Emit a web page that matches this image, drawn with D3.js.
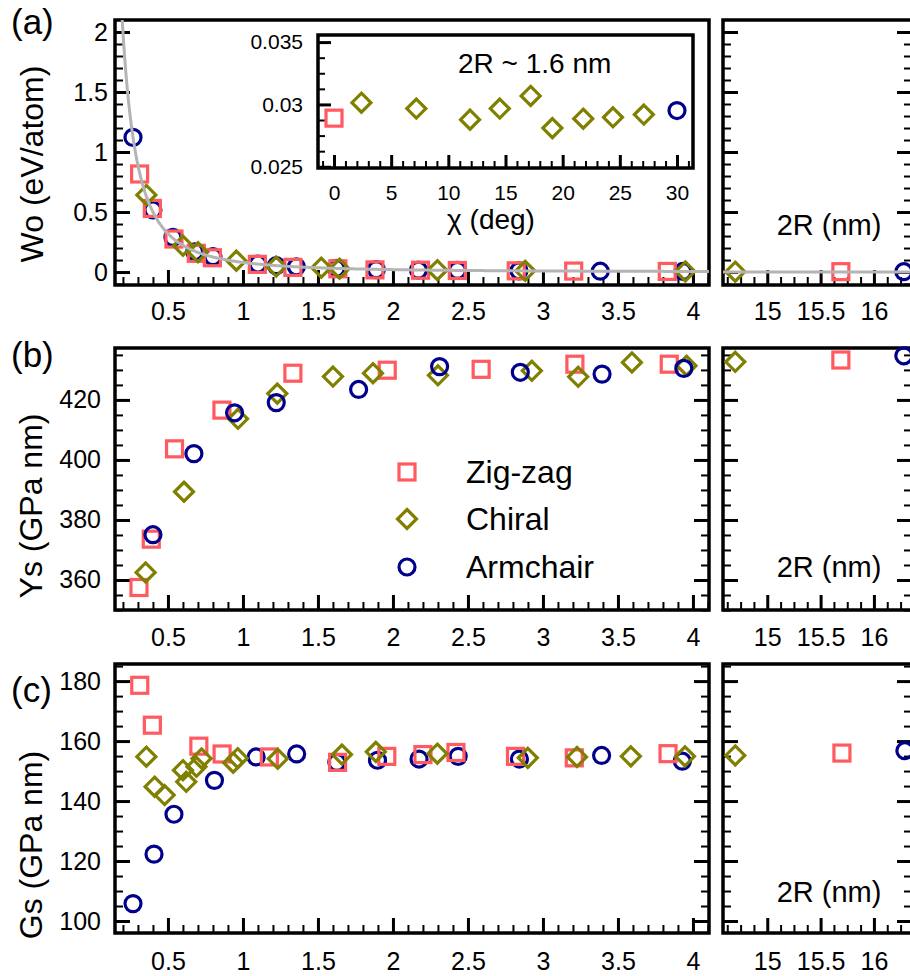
<!DOCTYPE html>
<html>
<head>
<meta charset="utf-8">
<script src="https://cdn.jsdelivr.net/npm/d3@7"></script>
<style>
  body { margin: 0; background: #fff; }
  text { font-family: "Liberation Sans", Arial, Helvetica, sans-serif; }
</style>
</head>
<body>
<div id="chart"></div>
<script>
// ---- data: [2R (nm), value] ----
const seriesNames = ["Zig-zag", "Chiral", "Armchair"];

// (a) Wo (eV/atom)
const woZigzag = [[0.311, 0.817], [0.396, 0.53], [0.54, 0.275], [0.689, 0.156], [0.796, 0.119],
  [1.096, 0.064], [1.333, 0.039], [1.633, 0.027], [1.88, 0.018], [2.184, 0.015], [2.429, 0.013],
  [2.822, 0.010], [3.205, 0.008], [3.829, 0.005], [15.69, 0.003]];
const woChiral = [[0.356, 0.642], [0.6, 0.22], [0.7, 0.165], [0.956, 0.095], [1.222, 0.046],
  [1.522, 0.036], [1.644, 0.028], [2.296, 0.015], [2.882, 0.010], [3.949, 0.005], [14.70, 0.003]];
const woArmchair = [[0.267, 1.122], [0.4, 0.517], [0.533, 0.289], [0.678, 0.169], [0.8, 0.128],
  [1.1, 0.067], [1.222, 0.053], [1.356, 0.044], [1.622, 0.03], [1.889, 0.02], [2.17, 0.016],
  [2.43, 0.014], [2.84, 0.010], [3.382, 0.007], [3.933, 0.005], [16.28, 0.003]];
const fitA = 0.08; // fitted curve Wo = A / (2R)^2

// inset: Wo vs chiral angle at 2R ~ 1.6 nm
const insetZigzag = [[0, 0.0289]];
const insetChiral = [[2.4, 0.03014], [7.2, 0.02967], [11.9, 0.02878], [14.5, 0.02967], [17.2, 0.03068],
  [19.1, 0.0281], [21.8, 0.02886], [24.4, 0.02897], [27.1, 0.02919]];
const insetArmchair = [[30, 0.02951]];

// (b) Ys (GPa nm)
const ysZigzag = [[0.307, 357.5], [0.389, 373.6], [0.544, 403.7], [0.86, 416.6], [1.333, 428.9],
  [1.962, 429.9], [2.588, 430.2], [3.213, 431.9], [3.842, 431.9], [15.69, 433.3]];
const ysChiral = [[0.351, 362.5], [0.607, 389.4], [0.967, 413.7], [1.229, 422.1], [1.6, 427.8],
  [1.867, 428.9], [2.3, 428.2], [2.926, 429.7], [3.235, 427.7], [3.593, 432.5], [3.957, 431.4], [14.70, 432.7]];
const ysArmchair = [[0.4, 375.1], [0.673, 402.1], [0.944, 415.7], [1.222, 419.1], [1.771, 423.5],
  [2.311, 431.1], [2.849, 429.2], [3.394, 428.6], [3.939, 430.5], [16.28, 434.7]];

// (c) Gs (GPa nm)
const gsZigzag = [[0.312, 178.6], [0.396, 165.3], [0.706, 158.3], [0.861, 155.7], [1.176, 154.7],
  [1.631, 152.9], [1.959, 154.9], [2.2, 155.5], [2.42, 156.2], [2.817, 154.9], [3.209, 154.4],
  [3.834, 155.8], [15.70, 156.0]];
const gsChiral = [[0.356, 154.8], [0.411, 144.8], [0.478, 142.0], [0.6, 150.3], [0.622, 146.4],
  [0.69, 151.4], [0.724, 154.2], [0.935, 152.8], [0.965, 154.3], [1.232, 154.1], [1.66, 155.5],
  [1.886, 156.4], [2.296, 155.8], [2.899, 154.4], [3.227, 154.7], [3.586, 154.9], [3.947, 154.9], [14.70, 155.2]];
const gsArmchair = [[0.267, 105.8], [0.407, 122.3], [0.54, 135.6], [0.81, 146.9], [1.088, 154.7],
  [1.358, 155.7], [1.626, 152.9], [1.897, 153.6], [2.174, 154.0], [2.435, 154.9], [2.843, 154.0],
  [3.391, 155.2], [3.929, 153.3], [16.29, 156.8]];

// tick labels
const xTicksMain = [0.5, 1, 1.5, 2, 2.5, 3, 3.5, 4];
const xTicksRight = [15, 15.5, 16];
const woTicks = [0, 0.5, 1, 1.5, 2];
const ysTicks = [360, 380, 400, 420];
const gsTicks = [100, 120, 140, 160, 180];
const insetXTicks = [0, 5, 10, 15, 20, 25, 30];
const insetYTicks = [0.025, 0.03, 0.035];

// ---- layout ----
const W = 910, H = 976;
const FONT = '"Liberation Sans", Arial, Helvetica, sans-serif';
const colors = { "Zig-zag": "#ff5a5f", "Chiral": "#7f7f00", "Armchair": "#00008c" };
const shapes = { "Zig-zag": "square", "Chiral": "diamond", "Armchair": "circle" };

const svg = d3.select("#chart").append("svg")
  .attr("width", W).attr("height", H);

const mainX = d3.scaleLinear().domain([0.147, 4.107]).range([115, 709]);
const rightX = d3.scaleLinear().domain([14.585, 16.357]).range([723, 912]);

const minorMainX = d3.range(2, 42).map(i => i / 10).filter(v => !xTicksMain.includes(v));
const minorRightX = d3.range(117, 131).map(i => i * 0.125).filter(v => !xTicksRight.includes(v));

function marker(g, kind, color, cx, cy) {
  if (kind === "square") {
    g.append("rect").attr("x", cx - 8).attr("y", cy - 8)
      .attr("width", 16).attr("height", 16)
      .attr("fill", "none").attr("stroke", color).attr("stroke-width", 3.2);
  } else if (kind === "diamond") {
    g.append("path")
      .attr("d", `M${cx},${cy - 9.5}L${cx + 9.5},${cy}L${cx},${cy + 9.5}L${cx - 9.5},${cy}Z`)
      .attr("fill", "none").attr("stroke", color).attr("stroke-width", 3.2);
  } else {
    g.append("circle").attr("cx", cx).attr("cy", cy).attr("r", 8)
      .attr("fill", "none").attr("stroke", color).attr("stroke-width", 3.2);
  }
}

function drawSeries(g, data, name, x, y) {
  const [x0, x1] = x.domain();
  data.filter(d => d[0] >= x0 && d[0] <= x1)
    .forEach(d => marker(g, shapes[name], colors[name], x(d[0]), y(d[1])));
}

function styleAxis(g, size) {
  g.select(".domain").remove();
  g.attr("font-family", FONT).attr("font-size", size);
  g.selectAll("text").attr("fill", "#000");
}

// draws ticks for one box: left/bottom with labels, optional right mirror
function drawAxes(g, x, y, o) {
  const [yTop, yBot] = [y.range()[1], y.range()[0]];
  const [xL, xR] = x.range();
  // bottom
  g.append("g").attr("transform", `translate(0,${yBot})`)
    .call(d3.axisBottom(x).tickValues(o.xMinor).tickSizeInner(-o.minorLen).tickSizeOuter(0).tickFormat(""))
    .call(a => styleAxis(a, o.font))
    .selectAll("line").attr("stroke", "#000").attr("stroke-width", 2);
  g.append("g").attr("transform", `translate(0,${yBot})`)
    .call(d3.axisBottom(x).tickValues(o.xMajor).tickSizeInner(-o.majorLen).tickSizeOuter(0)
      .tickPadding(o.xPad).tickFormat(d => String(d)))
    .call(a => styleAxis(a, o.font))
    .selectAll("line").attr("stroke", "#000").attr("stroke-width", 3);
  // left
  g.append("g").attr("transform", `translate(${xL},0)`)
    .call(d3.axisLeft(y).tickValues(o.yMinor).tickSizeInner(-o.minorLen).tickSizeOuter(0).tickFormat(""))
    .call(a => styleAxis(a, o.font))
    .selectAll("line").attr("stroke", "#000").attr("stroke-width", 2);
  g.append("g").attr("transform", `translate(${xL},0)`)
    .call(d3.axisLeft(y).tickValues(o.yMajor).tickSizeInner(-o.majorLen).tickSizeOuter(0)
      .tickPadding(o.yPad).tickFormat(o.yLabels ? (d => String(d)) : ""))
    .call(a => styleAxis(a, o.font))
    .selectAll("line").attr("stroke", "#000").attr("stroke-width", 3);
  if (o.right) {
    g.append("g").attr("transform", `translate(${xR},0)`)
      .call(d3.axisRight(y).tickValues(o.yMinor).tickSizeInner(-o.minorLen).tickSizeOuter(0).tickFormat(""))
      .call(a => styleAxis(a, o.font))
      .selectAll("line").attr("stroke", "#000").attr("stroke-width", 2);
    g.append("g").attr("transform", `translate(${xR},0)`)
      .call(d3.axisRight(y).tickValues(o.yMajor).tickSizeInner(-o.majorLen).tickSizeOuter(0).tickFormat(""))
      .call(a => styleAxis(a, o.font))
      .selectAll("line").attr("stroke", "#000").attr("stroke-width", 3);
  }
  // frame
  g.append("rect").attr("x", xL).attr("y", yTop)
    .attr("width", xR - xL).attr("height", yBot - yTop)
    .attr("fill", "none").attr("stroke", "#000").attr("stroke-width", 3.5);
}

const panels = [
  {
    tag: "(a)", top: 20, bottom: 285, domain: [-0.108, 2.1], ticks: woTicks,
    minor: d3.range(-1, 21).map(i => i / 10).filter(v => !woTicks.includes(v)),
    yPad: 7, xPad: 17, mainRight: false, title: "Wo (eV/atom)", titlePos: [43, 164], tagY: 34,
    series: { "Zig-zag": woZigzag, "Chiral": woChiral, "Armchair": woArmchair },
    order: ["Armchair", "Zig-zag", "Chiral"], fit: true
  },
  {
    tag: "(b)", top: 348, bottom: 610, domain: [350, 437.3], ticks: ysTicks,
    minor: d3.range(350, 440, 5).filter(v => !ysTicks.includes(v)),
    yPad: 14, xPad: 18, mainRight: true, title: "Ys (GPa nm)", titlePos: [42, 506], tagY: 367,
    series: { "Zig-zag": ysZigzag, "Chiral": ysChiral, "Armchair": ysArmchair },
    order: ["Zig-zag", "Chiral", "Armchair"], legend: true
  },
  {
    tag: "(c)", top: 664, bottom: 933, domain: [96, 185.7], ticks: gsTicks,
    minor: d3.range(100, 190, 5).filter(v => !gsTicks.includes(v)),
    yPad: 14, xPad: 19, mainRight: true, title: "Gs (GPa nm)", titlePos: [42, 845], tagY: 702,
    series: { "Zig-zag": gsZigzag, "Chiral": gsChiral, "Armchair": gsArmchair },
    order: ["Armchair", "Zig-zag", "Chiral"]
  }
];

const rightLabelY = { "(a)": 235, "(b)": 577, "(c)": 902 };

panels.forEach((p, i) => {
  const y = d3.scaleLinear().domain(p.domain).range([p.bottom, p.top]);
  const g = svg.append("g");

  // clip for the fit curve
  const clipMain = `clipMain${i}`, clipRight = `clipRight${i}`;
  const defs = svg.append("defs");
  defs.append("clipPath").attr("id", clipMain).append("rect")
    .attr("x", 115).attr("y", p.top).attr("width", 594).attr("height", p.bottom - p.top);
  defs.append("clipPath").attr("id", clipRight).append("rect")
    .attr("x", 723).attr("y", p.top).attr("width", 189).attr("height", p.bottom - p.top);

  drawAxes(g, mainX, y, {
    xMajor: xTicksMain, xMinor: minorMainX, yMajor: p.ticks, yMinor: p.minor,
    majorLen: 15, minorLen: 8, font: 25, xPad: p.xPad, yPad: p.yPad, yLabels: true, right: p.mainRight
  });
  drawAxes(g, rightX, y, {
    xMajor: xTicksRight, xMinor: minorRightX, yMajor: p.ticks, yMinor: p.minor,
    majorLen: 15, minorLen: 8, font: 25, xPad: p.xPad, yPad: p.yPad, yLabels: false, right: true
  });

  // markers
  const mg = g.append("g");
  p.order.forEach(name => {
    drawSeries(mg, p.series[name], name, mainX, y);
    drawSeries(mg, p.series[name], name, rightX, y);
  });

  // fitted curve on top
  if (p.fit) {
    const line = d3.line().x(d => d[0]).y(d => d[1]);
    const mainPts = d3.range(0.19, 4.12, 0.004).map(v => [mainX(v), y(fitA / (v * v))]);
    const rightPts = [14.585, 15.5, 16.357].map(v => [rightX(v), y(fitA / (v * v))]);
    g.append("path").attr("d", line(mainPts)).attr("clip-path", `url(#${clipMain})`)
      .attr("fill", "none").attr("stroke", "#b4b4b4").attr("stroke-width", 3);
    g.append("path").attr("d", line(rightPts)).attr("clip-path", `url(#${clipRight})`)
      .attr("fill", "none").attr("stroke", "#b4b4b4").attr("stroke-width", 3);
  }

  // axis title
  g.append("text")
    .attr("transform", `translate(${p.titlePos[0]},${p.titlePos[1]}) rotate(-90)`)
    .attr("text-anchor", "middle").attr("font-size", 32)
    .text(p.title);

  // panel tag
  g.append("text").attr("x", 11).attr("y", p.tagY).attr("font-size", 35).text(p.tag);

  // 2R (nm) in right box
  g.append("text").attr("x", 829).attr("y", rightLabelY[p.tag])
    .attr("text-anchor", "middle").attr("font-size", 29).text("2R (nm)");

  // legend
  if (p.legend) {
    const ly = [472, 519, 567];
    seriesNames.forEach((name, k) => {
      marker(g, shapes[name], colors[name], 407, ly[k]);
      g.append("text").attr("x", 466).attr("y", ly[k] + 11)
        .attr("font-size", 32).text(name);
    });
  }
});

// ---- inset ----
const ix = d3.scaleLinear().domain([-1.4, 31.4]).range([318, 693]);
const iy = d3.scaleLinear().domain([0.0249, 0.03557]).range([168, 35]);
const ig = svg.append("g");
ig.append("rect").attr("x", 318).attr("y", 35).attr("width", 375).attr("height", 133).attr("fill", "#fff");
drawAxes(ig, ix, iy, {
  xMajor: insetXTicks, xMinor: d3.range(-1, 32).filter(v => !insetXTicks.includes(v)),
  yMajor: insetYTicks, yMinor: d3.range(0, 9).map(k => +(0.025 + k * 0.00125).toFixed(5)).filter(v => !insetYTicks.includes(v)),
  majorLen: 13, minorLen: 7, font: 21, xPad: 17, yPad: 15, yLabels: true, right: false
});
drawSeries(ig, insetZigzag, "Zig-zag", ix, iy);
drawSeries(ig, insetChiral, "Chiral", ix, iy);
drawSeries(ig, insetArmchair, "Armchair", ix, iy);
ig.append("text").attr("x", 458).attr("y", 73).attr("font-size", 28).text("2R ~ 1.6 nm");
ig.append("text").attr("x", 491).attr("y", 229).attr("text-anchor", "middle")
  .attr("font-size", 28).text("χ (deg)");
</script>
</body>
</html>
